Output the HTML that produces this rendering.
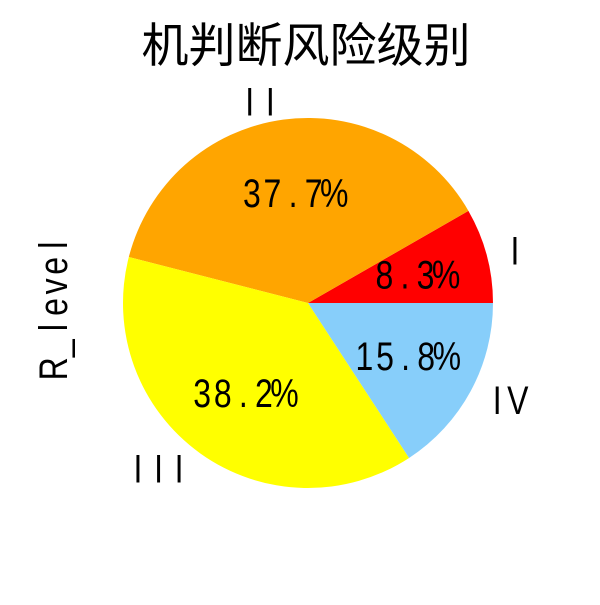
<!DOCTYPE html>
<html><head><meta charset="utf-8"><style>
body{margin:0;background:#fff}
svg text{fill:#000}
.m{font-family:"Liberation Sans",sans-serif;font-size:40px}
</style></head><body>
<svg id="chart" width="600" height="600" viewBox="0 0 600 600" xmlns="http://www.w3.org/2000/svg">
<rect width="600" height="600" fill="#fff"/>
<text x="306" y="62" font-size="47" text-anchor="middle" style="font-family:'WenQuanYi Zen Hei','Noto Sans CJK SC',sans-serif">机判断风险级别</text>
<g id="slices"></g>
</svg>
<script>
const categories = ["I","II","III","IV"];
const values = [8.3, 37.7, 38.2, 15.8];
const pctLabels = ["8.3%","37.7%","38.2%","15.8%"];
const colors = ["#ff0000","#ffa500","#ffff00","#87cefa"];
const cx=308, cy=303, r=185, cell=20.6, sx=0.8;
const svg=document.getElementById('chart');
const g=document.getElementById('slices');
const NS="http://www.w3.org/2000/svg";
function monoText(str, x, y, anchor, rot){
  const t=document.createElementNS(NS,'text');
  const w=str.length*cell;
  const x0 = anchor==='middle' ? -w/2 : anchor==='end' ? -w : 0;
  const xs=[];
  for(let k=0;k<str.length;k++) xs.push(((x0+(k+0.5)*cell)/sx).toFixed(2));
  t.setAttribute('x',xs.join(' '));
  t.setAttribute('y',0);
  t.setAttribute('class','m');
  t.setAttribute('text-anchor','middle');
  t.setAttribute('transform',`translate(${x},${y}) rotate(${rot||0}) scale(${sx},1)`);
  t.textContent=str;
  return t;
}
const yl=monoText("R_level",67,307,'middle',-90);


svg.appendChild(yl);
const total=values.reduce((a,b)=>a+b,0);
let start=0;
values.forEach((v,i)=>{
  const a0=start, a1=start+v/total*2*Math.PI; start=a1;
  const x0=cx+r*Math.cos(a0), y0=cy-r*Math.sin(a0), x1=cx+r*Math.cos(a1), y1=cy-r*Math.sin(a1);
  const large=(a1-a0)>Math.PI?1:0;
  const p=document.createElementNS(NS,'path');
  p.setAttribute('d',`M${cx},${cy}L${x0},${y0}A${r},${r} 0 ${large} 0 ${x1},${y1}Z`);
  p.setAttribute('fill',colors[i]);
  
  
  g.appendChild(p);
  const m=(a0+a1)/2;
  const t=monoText(pctLabels[i], cx+0.6*r*Math.cos(m), cy-0.6*r*Math.sin(m)+14, 'middle');
  
  
  g.appendChild(t);
  const l=monoText(categories[i], cx+1.1*r*Math.cos(m), cy-1.1*r*Math.sin(m)+14, Math.cos(m)>0?'start':'end');
  
  
  g.appendChild(l);
});
</script>
</body></html>
